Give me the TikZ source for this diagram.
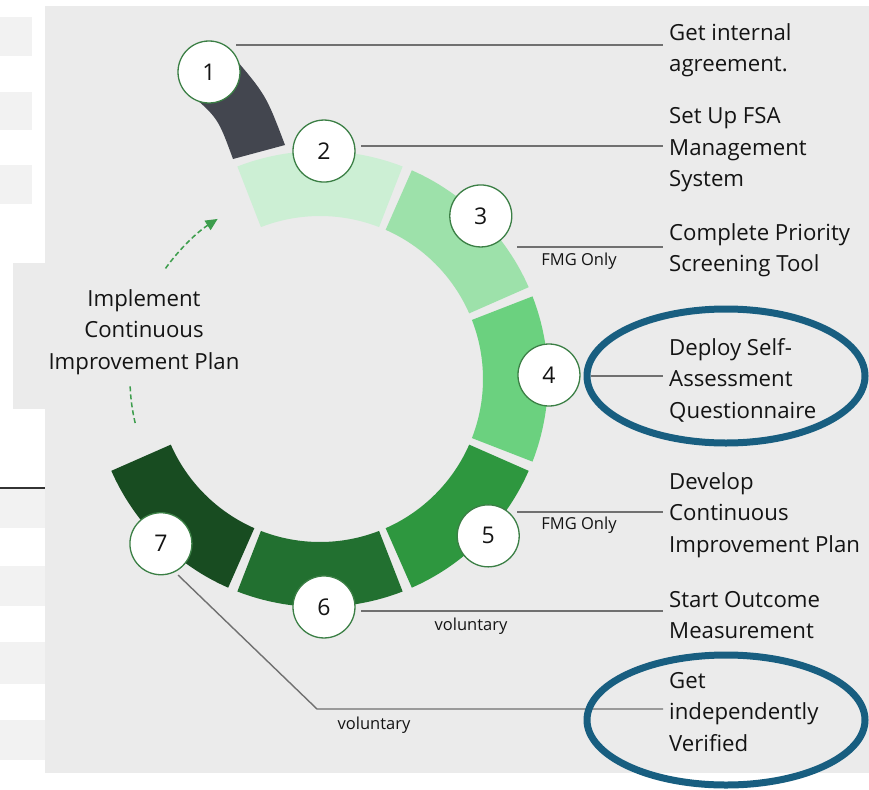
\documentclass[tikz,border=0pt]{standalone}
\usepackage{fontspec}
\setmainfont{Open Sans}
\usetikzlibrary{arrows.meta}
\definecolor{bgGray}{HTML}{EBEBEB}
\definecolor{stripGray}{HTML}{F2F2F2}
\definecolor{textDark}{HTML}{141414}
\definecolor{leadGray}{HTML}{707070}
\definecolor{numGreen}{HTML}{3B7F45}
\definecolor{cycleGreen}{HTML}{3C9D4C}
\definecolor{markBlue}{HTML}{185E80}
\definecolor{segOne}{HTML}{43464F}
\definecolor{segTwo}{HTML}{CCEFD4}
\definecolor{segThree}{HTML}{9DE1AA}
\definecolor{segFour}{HTML}{6BD17F}
\definecolor{segFive}{HTML}{2E973F}
\definecolor{segSix}{HTML}{227030}
\definecolor{segSeven}{HTML}{184C21}
\tikzset{
    x=1pt, y=1pt, % one unit is one pixel of the layout
    every node/.style={text=textDark, font=\fontsize{22.2}{31.5}\selectfont}, % body text
    >={Triangle[length=12pt, width=11pt]}, % filled arrow heads
}

\begin{document}
\begin{tikzpicture}[
    styleNum/.style={circle, draw=numGreen, line width=1.3pt, fill=white, minimum size=62pt, inner sep=0pt, font=\fontsize{23}{26}\selectfont},
    styleStep/.style={anchor=west, align=left, inner xsep=6pt, inner ysep=0pt},
    styleNote/.style={inner sep=0pt, font=\fontsize{16.5}{18}\selectfont},
    styleLead/.style={draw=leadGray, line width=1.4pt},
    styleMark/.style={draw=markBlue, line width=7pt},
    styleCycle/.style={draw=cycleGreen, line width=1.5pt, dash pattern=on 5pt off 3pt},
]
% page and background
\useasboundingbox (0,0) rectangle (869,-789);
\fill[white] (0,0) rectangle (869,-789);
\fill[stripGray] (0,-17) rectangle (32,-56);
\fill[stripGray] (0,-92) rectangle (32,-130);
\fill[stripGray] (0,-165) rectangle (32,-204);
\fill[stripGray] (0,-488) rectangle (45,-528);
\fill[stripGray] (0,-566) rectangle (45,-606);
\fill[stripGray] (0,-642) rectangle (45,-684);
\fill[stripGray] (0,-720) rectangle (45,-760);
\draw[line width=2pt, black!80] (0,-488) -- (45,-488);
\fill[bgGray] (45,-6) rectangle (869,-773);
\fill[bgGray] (13,-263) rectangle (45,-409);

% tail of step 1
\fill[segOne] (233,-159) -- (285,-145) .. controls (266,-95) .. (232,-55)
    -- (188,-92) .. controls (218,-118) .. (233,-159) -- cycle;

% the ring
\begin{scope}[shift={(320,-379)}]
\coordinate (c) at (0,0);
\fill[segTwo] (68.75:228) arc[start angle=68.75, end angle=111.25, radius=228]
    -- (111.25:163) arc[start angle=111.25, end angle=68.75, radius=163] -- cycle;
\fill[segThree] (23.75:228) arc[start angle=23.75, end angle=66.25, radius=228]
    -- (66.25:163) arc[start angle=66.25, end angle=23.75, radius=163] -- cycle;
\fill[segFour] (-21.25:228) arc[start angle=-21.25, end angle=21.25, radius=228]
    -- (21.25:163) arc[start angle=21.25, end angle=-21.25, radius=163] -- cycle;
\fill[segFive] (-66.25:228) arc[start angle=-66.25, end angle=-23.75, radius=228]
    -- (-23.75:163) arc[start angle=-23.75, end angle=-66.25, radius=163] -- cycle;
\fill[segSix] (-111.25:228) arc[start angle=-111.25, end angle=-68.75, radius=228]
    -- (-68.75:163) arc[start angle=-68.75, end angle=-111.25, radius=163] -- cycle;
\fill[segSeven] (-156.25:228) arc[start angle=-156.25, end angle=-113.75, radius=228]
    -- (-113.75:163) arc[start angle=-113.75, end angle=-156.25, radius=163] -- cycle;
% way back to the start
\draw[styleCycle] (193.4:190) arc[start angle=193.4, end angle=182, radius=190];
\draw[styleCycle, ->] (144.4:190) arc[start angle=144.4, end angle=122.6, radius=190];
\end{scope}

% step texts
\node[styleStep] (t1) at (663,-50) {Get internal\\agreement.};
\node[styleStep] (t2) at (663,-150) {Set Up FSA\\Management\\System};
\node[styleStep] (t3) at (663,-250) {Complete Priority\\Screening Tool};
\node[styleStep] (t4) at (663,-380) {Deploy Self-\\Assessment\\Questionnaire};
\node[styleStep] (t5) at (663,-515) {Develop\\Continuous\\Improvement Plan};
\node[styleStep] (t6) at (663,-615) {Start Outcome\\Measurement};
\node[styleStep] (t7) at (663,-712) {Get\\independently\\Verified};
\node[align=center] (plan) at (144,-332) {Implement\\Continuous\\Improvement Plan};

% leader lines
\coordinate (s1) at (236,-45);
\coordinate (s2) at (361,-146);
\coordinate (s3) at (517,-247);
\coordinate (s4) at (591,-376);
\coordinate (s5) at (517,-512);
\coordinate (s6) at (361,-611);
\coordinate (s7) at (178,-575);
\coordinate (k7) at (317,-709);
\draw[styleLead] (s1) -- (s1 -| t1.west);
\draw[styleLead] (s2) -- (s2 -| t2.west);
\draw[styleLead] (s3) -- (s3 -| t3.west);
\draw[styleLead] (s4) -- (s4 -| t4.west);
\draw[styleLead] (s5) -- (s5 -| t5.west);
\draw[styleLead] (s6) -- (s6 -| t6.west);
\draw[styleLead] (s7) -- (k7) -- (k7 -| t7.west);
\node[styleNote] (f3) at (579,-261) {FMG Only};
\node[styleNote] (f5) at (579,-525) {FMG Only};
\node[styleNote] (v6) at (471,-626) {voluntary};
\node[styleNote] (v7) at (374,-725) {voluntary};

% numbered steps
\node[styleNum] (n1) at (209,-72) {1};
\begin{scope}[shift={(320,-379)}]
\node[styleNum] (n2) at (89:228) {2};
\node[styleNum] (n3) at (45.4:229) {3};
\node[styleNum] (n4) at (1:229) {4};
\node[styleNum] (n5) at (-43:230) {5};
\node[styleNum] (n6) at (-89:228) {6};
\node[styleNum] (n7) at (-134:229) {7};
\end{scope}

% highlighted steps
\draw[styleMark] (726,-376) ellipse[x radius=139, y radius=67];
\draw[styleMark] (726,-720) ellipse[x radius=139, y radius=65];
\end{tikzpicture}
\end{document}
